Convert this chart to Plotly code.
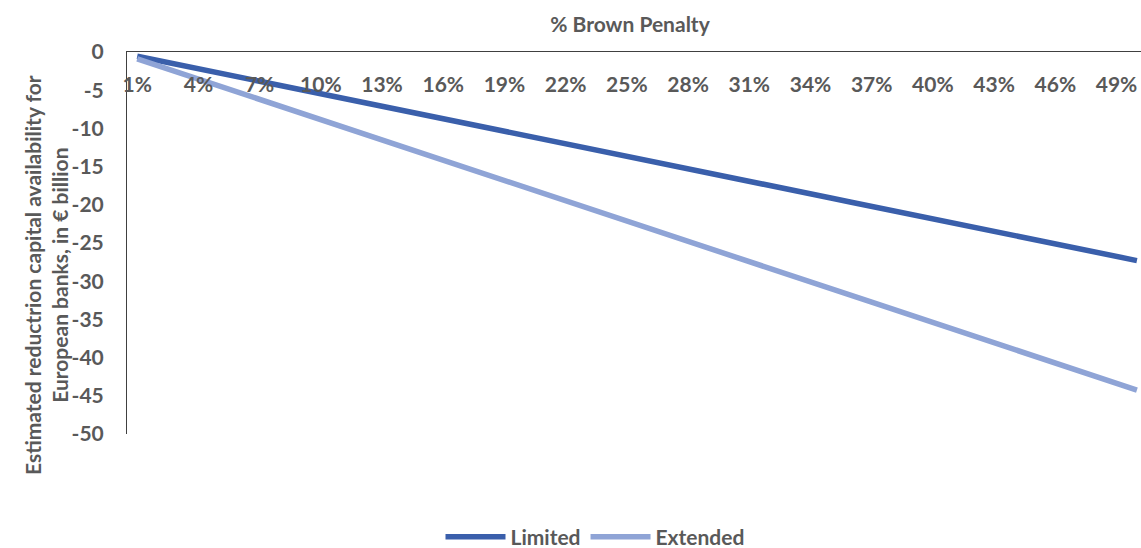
import plotly.graph_objects as go

# Brown penalty levels (1% .. 50%)
penalty = [f"{k}%" for k in range(1, 51)]

# Estimated reduction in capital availability, € billion
limited = [
    -0.55, -1.09, -1.64, -2.18, -2.73, -3.28, -3.82, -4.37, -4.91, -5.46,
    -6.01, -6.55, -7.10, -7.64, -8.19, -8.74, -9.28, -9.83, -10.37, -10.92,
    -11.47, -12.01, -12.56, -13.10, -13.65, -14.20, -14.74, -15.29, -15.83, -16.38,
    -16.93, -17.47, -18.02, -18.56, -19.11, -19.66, -20.20, -20.75, -21.29, -21.84,
    -22.39, -22.93, -23.48, -24.02, -24.57, -25.12, -25.66, -26.21, -26.75, -27.30,
]
extended = [
    -0.89, -1.77, -2.66, -3.54, -4.43, -5.31, -6.20, -7.08, -7.97, -8.85,
    -9.74, -10.62, -11.51, -12.39, -13.28, -14.16, -15.05, -15.93, -16.82, -17.70,
    -18.59, -19.47, -20.36, -21.24, -22.13, -23.01, -23.90, -24.78, -25.67, -26.55,
    -27.44, -28.32, -29.21, -30.09, -30.98, -31.86, -32.75, -33.63, -34.52, -35.40,
    -36.29, -37.17, -38.06, -38.94, -39.83, -40.71, -41.60, -42.48, -43.37, -44.25,
]

x_ticks = penalty[::3]
y_ticks = [0, -5, -10, -15, -20, -25, -30, -35, -40, -45, -50]

FONT = "Lato"
GREY = "#595959"

fig = go.Figure()
fig.add_trace(go.Scatter(
    x=penalty, y=limited, name="<b>Limited</b>", mode="lines",
    line=dict(color="#3A5FAB", width=5.5), cliponaxis=False,
))
fig.add_trace(go.Scatter(
    x=penalty, y=extended, name="<b>Extended</b>", mode="lines",
    line=dict(color="#8FA4D6", width=5.5), cliponaxis=False,
))

fig.update_layout(
    width=1141, height=548,
    margin=dict(l=127, r=0, t=52, b=114),
    paper_bgcolor="white", plot_bgcolor="white",
    font=dict(family=FONT, size=21, color=GREY),
    title=dict(
        text="<b>% Brown Penalty</b>",
        xref="container", x=630 / 1141, xanchor="center",
        yref="container", y=1 - 25 / 548, yanchor="middle",
        font=dict(family=FONT, size=21, color=GREY),
    ),
    showlegend=True,
    legend=dict(
        orientation="h",
        xref="container", x=595 / 1141, xanchor="center",
        yref="container", y=1 - 537 / 548, yanchor="middle",
        font=dict(family=FONT, size=21, color=GREY),
        itemwidth=60,
    ),
    xaxis=dict(
        type="category",
        side="top",
        range=[-0.5, 49.2],
        tickmode="array", tickvals=x_ticks,
        ticktext=[f"<b>{t}</b>" for t in x_ticks],
        ticklabelposition="inside",
        ticklabeloverflow="allow",
        ticks="inside", ticklen=27, tickcolor="rgba(0,0,0,0)",
        showline=True, linecolor="#404040", linewidth=1,
        showgrid=False, zeroline=False,
        tickfont=dict(family=FONT, size=21, color=GREY),
    ),
    yaxis=dict(
        range=[-50, 0],
        tickmode="array", tickvals=y_ticks,
        ticktext=[f"<b>{v}</b>" for v in y_ticks],
        ticklabeloverflow="allow",
        ticks="", ticklabelstandoff=18,
        showline=True, linecolor="#404040", linewidth=1,
        showgrid=False, zeroline=False,
        tickfont=dict(family=FONT, size=21, color=GREY),
    ),
    annotations=[dict(
        text="<b>Estimated reductrion capital availability for<br>European banks, in € billion</b>",
        textangle=-90,
        xref="paper", x=(46 - 127) / 1014, xanchor="center",
        yref="paper", y=(434 - 275) / 382, yanchor="middle",
        showarrow=False,
        font=dict(family=FONT, size=21, color=GREY),
    )],
)

fig.write_html("out.html")
